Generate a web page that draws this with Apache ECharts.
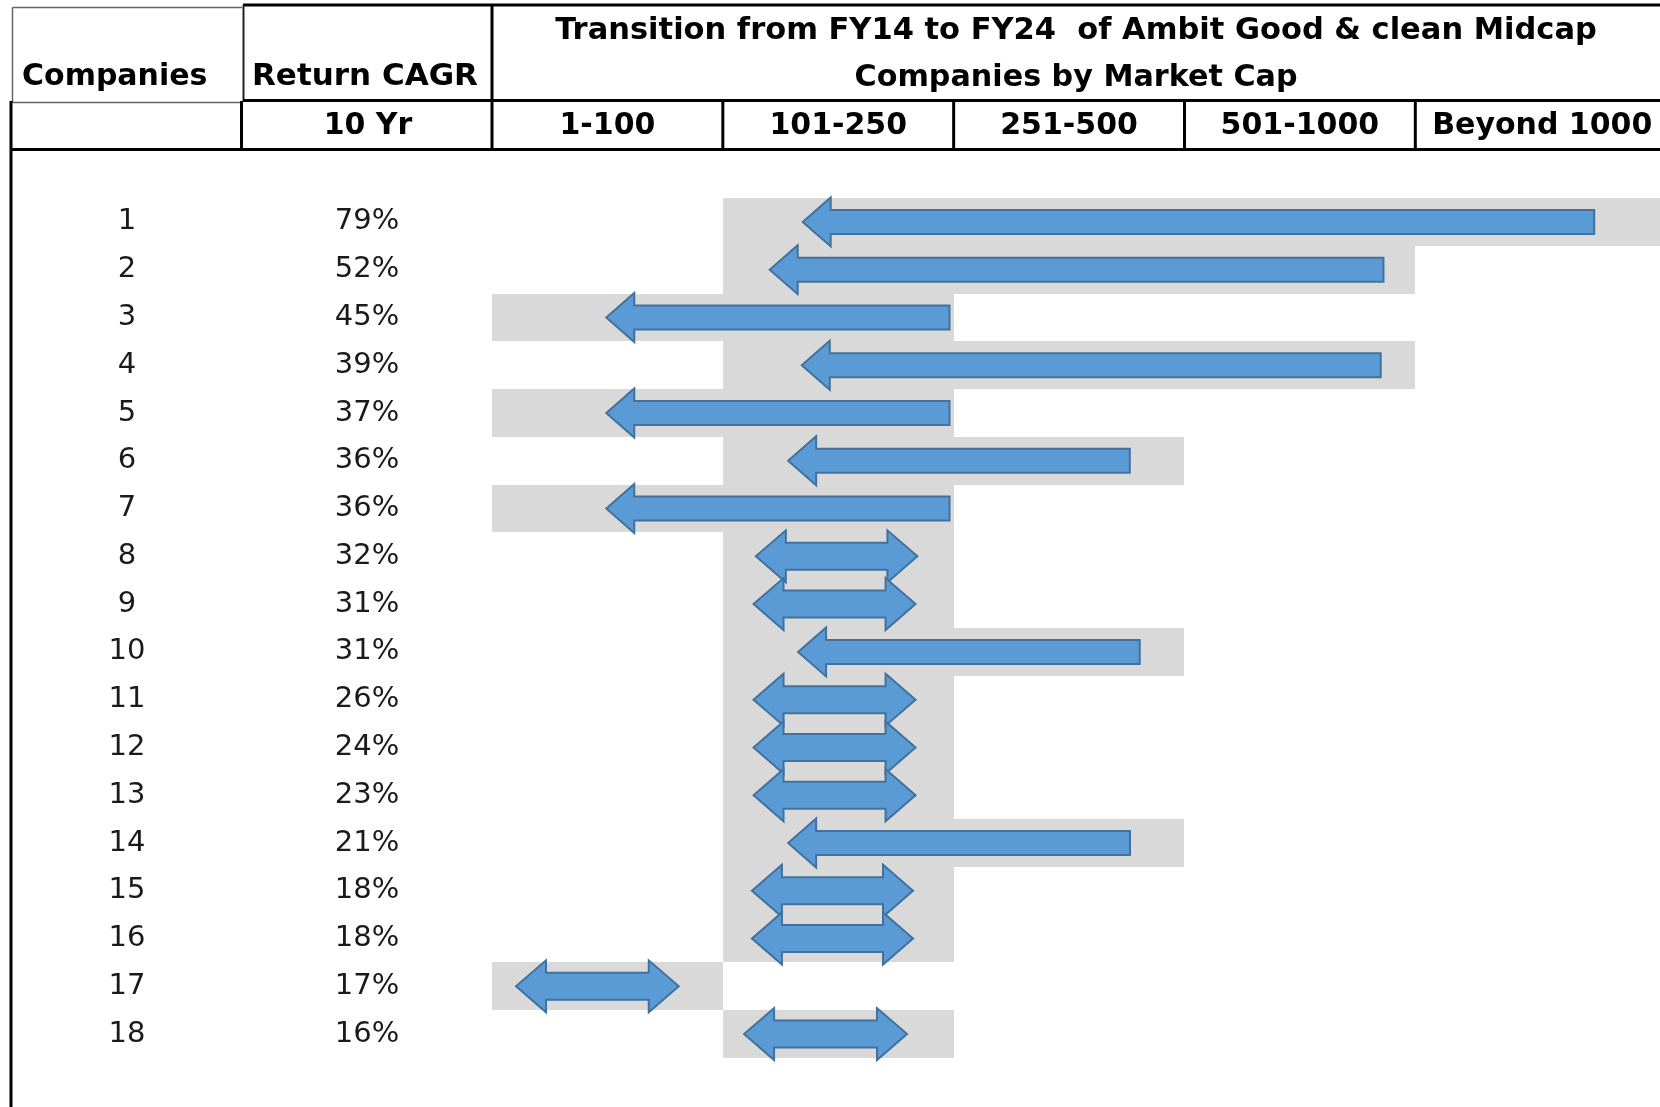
<!DOCTYPE html>
<html><head><meta charset="utf-8">
<script src="https://cdn.jsdelivr.net/npm/echarts@6/dist/echarts.min.js"></script>
<style>html,body{margin:0;padding:0;background:#fff}#c{width:1660px;height:1107px}</style>
</head><body><div id="c"></div>
<script>
// ---------------- DATA ----------------
const companies = ['1','2','3','4','5','6','7','8','9','10','11','12','13','14','15','16','17','18'];
const cagr10y = [79,52,45,39,37,36,36,32,31,31,26,24,23,21,18,18,17,16];
const buckets = ['1-100','101-250','251-500','501-1000','Beyond 1000'];
// market-cap bucket index (into buckets) in FY14 and FY24
const fy14Bucket = [4,3,1,3,1,2,1,1,1,2,1,1,1,2,1,1,0,1];
const fy24Bucket = [1,1,0,1,0,1,0,1,1,1,1,1,1,1,1,1,0,1];
// arrow extents, in bucket-column units
const arrowLeft  = [1.346,1.203,0.495,1.342,0.495,1.283,0.495,1.143,1.133,1.326,1.133,1.133,1.133,1.283,1.126,1.126,0.104,1.092];
const arrowRight = [4.775,3.862,1.982,3.850,1.982,2.763,1.982,1.843,1.835,2.806,1.835,1.835,1.835,2.764,1.824,1.824,0.809,1.798];

// ---------------- STYLE ----------------
const BAND = '#D9D9D9', FILL = '#5B9BD5', EDGE = '#41719C';
const HFONT = '"DejaVu Sans", sans-serif';
const X_MAX = 5.06;

const bandData = companies.map((c,i)=>[Math.min(fy14Bucket[i],fy24Bucket[i]), Math.max(fy14Bucket[i],fy24Bucket[i])+1, i]);
const arrowData = companies.map((c,i)=>[arrowLeft[i], arrowRight[i], i, fy14Bucket[i]===fy24Bucket[i]?1:0]);

function renderBand(params, api){
  const row = api.value(2);
  const p0 = api.coord([api.value(0), row]);
  let x1 = api.coord([api.value(1), row])[0];
  if (api.value(1) >= buckets.length) x1 = params.coordSys.x + params.coordSys.width;
  const h = api.size([0,1])[1];
  const x0 = Math.round(p0[0]); x1 = Math.round(x1);
  const y0 = Math.round(p0[1]-h/2), y1 = Math.round(p0[1]+h/2);
  return {type:'rect', shape:{x:x0, y:y0, width:x1-x0, height:y1-y0}, style:{fill:BAND, stroke:null}};
}
function renderArrow(params, api){
  const row = api.value(2);
  const l = api.coord([api.value(0), row]);
  const r = api.coord([api.value(1), row]);
  const cy = l[1];
  const dbl = api.value(3) === 1;
  const L = dbl?30:28, H = dbl?26:24.5, h = dbl?13.5:12;
  let pts;
  if (dbl) pts = [[l[0],cy],[l[0]+L,cy-H],[l[0]+L,cy-h],[r[0]-L,cy-h],[r[0]-L,cy-H],[r[0],cy],[r[0]-L,cy+H],[r[0]-L,cy+h],[l[0]+L,cy+h],[l[0]+L,cy+H]];
  else pts = [[l[0],cy],[l[0]+L,cy-H],[l[0]+L,cy-h],[r[0],cy-h],[r[0],cy+h],[l[0]+L,cy+h],[l[0]+L,cy+H]];
  return {type:'polygon', shape:{points:pts}, style:{fill:FILL, stroke:EDGE, lineWidth:2}};
}

const chart = echarts.init(document.getElementById('c'));
const catAxisBase = {type:'category', inverse:true, axisLine:{show:false}, axisTick:{show:false}, splitLine:{show:false}};
const bodyLabel = {align:'center', fontSize:29, fontFamily:HFONT, color:'#1a1a1a', padding:[7,0,0,0]};
chart.setOption({
  animation:false,
  backgroundColor:'#fff',
  grid:{left:492, right:0, top:198, bottom:49},
  xAxis:{type:'value', min:0, max:X_MAX, show:false},
  yAxis:[
    Object.assign({}, catAxisBase, {data:companies, axisLabel:Object.assign({margin:365}, bodyLabel)}),
    Object.assign({}, catAxisBase, {position:'left', data:cagr10y.map(v=>v+'%'), axisLabel:Object.assign({margin:125}, bodyLabel)})
  ],
  series:[
    {type:'custom', renderItem:renderBand, data:bandData, encode:{x:[0,1], y:2}, z:1, silent:true},
    {type:'custom', renderItem:renderArrow, data:arrowData, encode:{x:[0,1], y:2}, z:2, silent:true}
  ]
});

// ---------------- TABLE HEADER ----------------
const px = v => chart.convertToPixel({xAxisIndex:0}, v);
const g = [];
function line(x1,y1,x2,y2,w,c){ g.push({type:'line', silent:true, z:10, shape:{x1,y1,x2,y2}, style:{stroke:c||'#000', lineWidth:w}}); }
function text(t,x,y,align,size,weight){ g.push({type:'text', silent:true, z:11, style:{text:t, x, y, textAlign:align, align:align, textVerticalAlign:'middle', verticalAlign:'middle', font:(weight||'bold')+' '+size+'px '+HFONT, fill:'#000'}}); }

const leftCol = px(0);
line(243,5,1660,5,3);
line(12.5,7.5,242,7.5,1.5,'#666');
line(12.5,7.5,12.5,102.5,1.5,'#666');
line(12.5,102.5,242,102.5,1.5,'#666');
line(243.5,5,243.5,101,2,'#222');
line(243,100.5,1660,100.5,3);
line(241.5,101,241.5,150,3);
line(leftCol,5,leftCol,150,3);
for (let i=1;i<buckets.length;i++){ const x=px(i); line(x,100.5,x,150,3); }
line(11,149.5,1660,149.5,3);
line(11,101,11,1107,3);

text('Companies',22,77,'left',30);
text('Return CAGR',252,77,'left',31);
const midT = (leftCol+1660)/2;
text('Transition from FY14 to FY24  of Ambit Good & clean Midcap',midT,31,'center',30.5);
text('Companies by Market Cap',midT,78,'center',30.2);
text('10 Yr',368,126,'center',30);
buckets.forEach((b,i)=>{ const c = i===buckets.length-1 ? px(i+0.55) : px(i+0.5); text(b,c,126,'center',30); });

chart.setOption({graphic:{elements:g}});
</script></body></html>
